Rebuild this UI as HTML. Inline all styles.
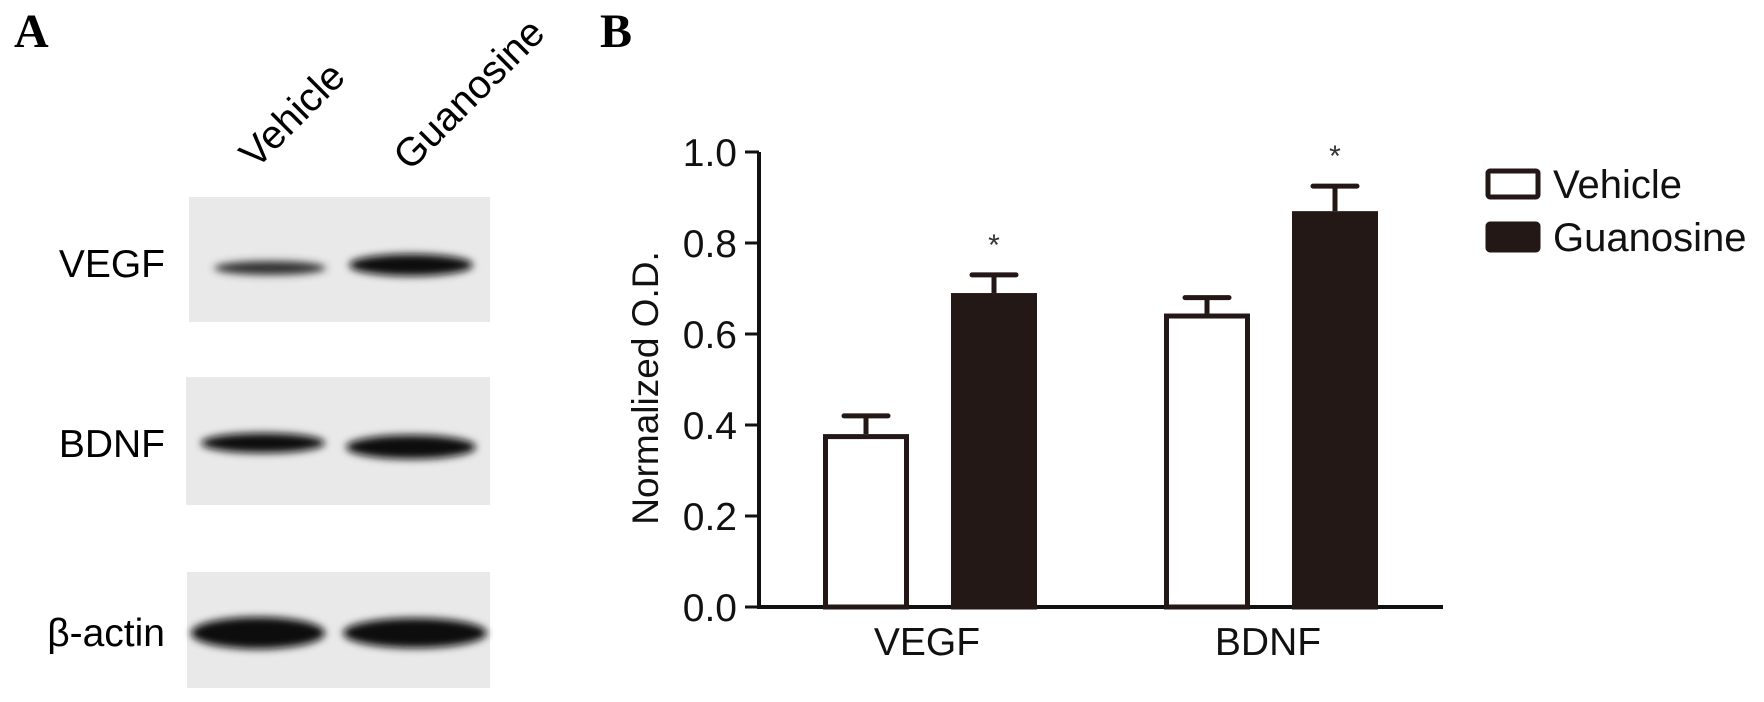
<!DOCTYPE html>
<html><head><meta charset="utf-8"><style>
html,body{margin:0;padding:0;background:#fff;}
svg{display:block;font-family:"Liberation Sans",Arial,sans-serif;}
</style></head><body>
<svg id="fig" width="1764" height="702" viewBox="0 0 1764 702" xmlns="http://www.w3.org/2000/svg">
<defs>
<filter id="blur4" x="-20%" y="-100%" width="140%" height="300%"><feGaussianBlur stdDeviation="4"/></filter>
</defs>
<g>
<text x="14" y="47" font-family="Liberation Serif,serif" font-weight="bold" font-size="48">A</text>
<text transform="translate(256,170) rotate(-45)" font-size="40">Vehicle</text>
<text transform="translate(410,172) rotate(-45)" font-size="40">Guanosine</text>

<rect x="189" y="197" width="301" height="125" fill="#e9e9e9"/>
<text x="165" y="277" text-anchor="end" font-size="39">VEGF</text>
<ellipse cx="270" cy="268" rx="56" ry="7" fill="#333" filter="url(#blur4)"/>
<ellipse cx="411" cy="265" rx="62" ry="11" fill="#111" filter="url(#blur4)"/>

<rect x="186" y="377" width="304" height="128" fill="#e9e9e9"/>
<text x="165" y="457" text-anchor="end" font-size="39">BDNF</text>
<ellipse cx="263" cy="443" rx="62" ry="10" fill="#111" filter="url(#blur4)"/>
<ellipse cx="411" cy="447" rx="65" ry="12" fill="#111" filter="url(#blur4)"/>

<rect x="187" y="572" width="303" height="116" fill="#e9e9e9"/>
<text x="165" y="646" text-anchor="end" font-size="39">β-actin</text>
<ellipse cx="258" cy="633" rx="67" ry="16" fill="#080808" filter="url(#blur4)"/>
<ellipse cx="415" cy="633" rx="72" ry="15" fill="#080808" filter="url(#blur4)"/>
</g>

<g>
<text x="600" y="47" font-family="Liberation Serif,serif" font-weight="bold" font-size="48">B</text>
<g id="chart"></g>
</g>
</svg>
<script>
const categories = ["VEGF", "BDNF"];
const seriesNames = ["Vehicle", "Guanosine"];
const vehicleValues = [0.38, 0.645];
const vehicleErrors = [0.04, 0.035];
const guanosineValues = [0.69, 0.87];
const guanosineErrors = [0.04, 0.055];
const significant = [true, true];
const yTicks = [0.0, 0.2, 0.4, 0.6, 0.8, 1.0];
const yTickLabels = ["0.0", "0.2", "0.4", "0.6", "0.8", "1.0"];

const NS = "http://www.w3.org/2000/svg";
const g = document.getElementById("chart");
const ink = "#231815";
const axX = 759, y0 = 607, y1 = 152;
const yScale = v => y0 - (y0 - y1) * v;
const groupCenters = [930, 1271];
const xCenter = i => groupCenters[0] + (groupCenters[1] - groupCenters[0]) * i;
const barW = 86, barGap = 42;

function mk(tag, attrs) {
  const e = document.createElementNS(NS, tag);
  for (const k in attrs) e.setAttribute(k, attrs[k]);
  g.appendChild(e);
  return e;
}

let ax = mk("line", {x1: axX, y1: y1, x2: axX, y2: y0, stroke: "#111", "stroke-width": 4});


let bx = mk("line", {x1: axX - 2, y1: y0, x2: 1443, y2: y0, stroke: "#111", "stroke-width": 4});



yTicks.forEach((t, i) => {
  const y = yScale(t);
  const tk = mk("line", {x1: axX - 14, y1: y, x2: axX, y2: y, stroke: "#111", "stroke-width": 3});
  
  
  const tl = mk("text", {x: axX - 22, y: y + 14, "text-anchor": "end", "font-size": 39, fill: "#111"});
  tl.textContent = yTickLabels[i];
  
  
});

const yt = mk("text", {transform: "translate(658,388) rotate(-90)", "text-anchor": "middle", "font-size": 37, fill: "#111"});
yt.textContent = "Normalized O.D.";



function drawBar(cx, v, e, filled, name) {
  const x = cx - barW / 2, yTop = yScale(v), yErr = yScale(v + e);
  const eb = mk("line", {x1: cx, y1: yTop, x2: cx, y2: yErr, stroke: ink, "stroke-width": 5});
  
  
  const cap = mk("line", {x1: cx - 22, y1: yErr, x2: cx + 22, y2: yErr, stroke: ink, "stroke-width": 5, "stroke-linecap": "round"});
  
  
  const r = mk("rect", {x: x + 2.5, y: yTop + 2.5, width: barW - 5, height: y0 - yTop - 2.5,
    fill: filled ? ink : "#fff", stroke: ink, "stroke-width": 5});
  
  
  return yErr;
}

categories.forEach((c, i) => {
  const cx = xCenter(i);
  const vx = cx - (barW + barGap) / 2, gx = cx + (barW + barGap) / 2;
  drawBar(vx, vehicleValues[i], vehicleErrors[i], false, "bar-vehicle-" + c.toLowerCase());
  const top = drawBar(gx, guanosineValues[i], guanosineErrors[i], true, "bar-guanosine-" + c.toLowerCase());
  if (significant[i]) {
    const s = mk("text", {x: gx, y: top - 20, "text-anchor": "middle", "font-size": 30, fill: "#333"});
    s.textContent = "*";
    
    
  }
  const xl = mk("text", {x: cx - 3, y: 655, "text-anchor": "middle", "font-size": 39, fill: "#111"});
  xl.textContent = c;
  
  
});

seriesNames.forEach((n, i) => {
  const y = 169 + i * 53;
  const r = mk("rect", {x: 1488, y: y + 2, width: 50, height: 26, fill: i ? ink : "#fff", stroke: ink, "stroke-width": 5, rx: 2});
  
  
  const t = mk("text", {x: 1553, y: y + 29, "font-size": 40, fill: "#111"});
  t.textContent = n;
  
  
});
</script>
</body></html>
